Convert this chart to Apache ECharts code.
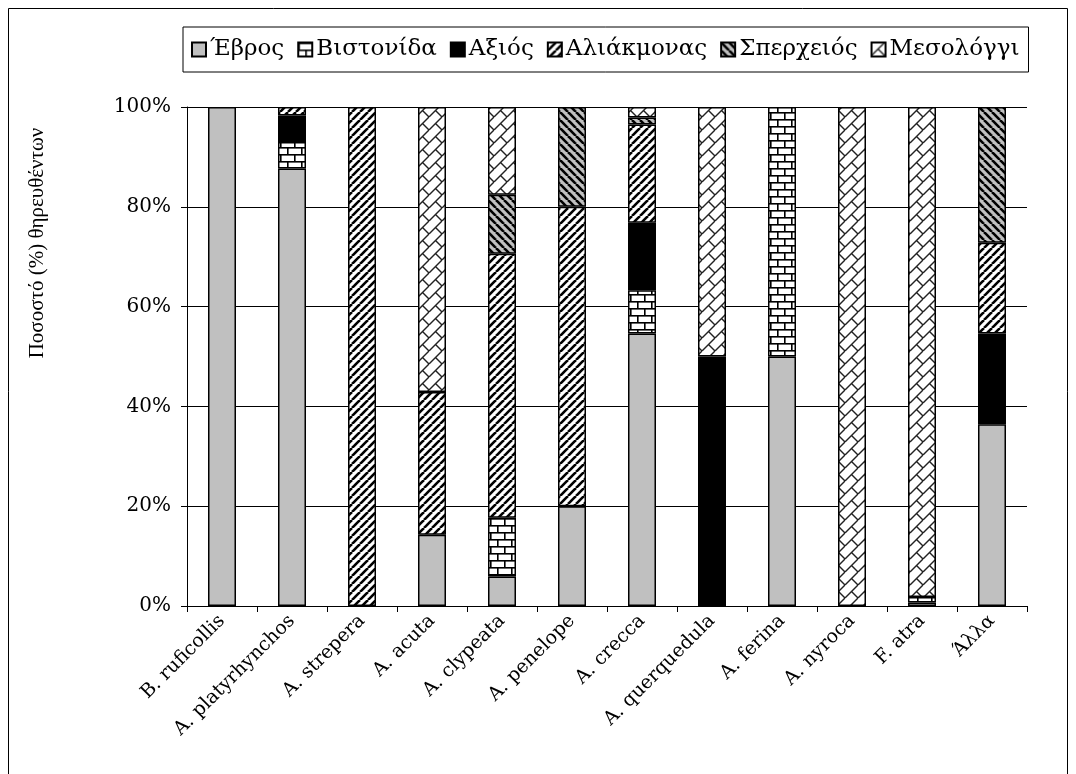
<!DOCTYPE html>
<html><head><meta charset="utf-8">
<script src="https://cdn.jsdelivr.net/npm/echarts@6/dist/echarts.min.js"></script>
<style>html,body{margin:0;padding:0;background:#fff}#c{width:1076px;height:774px}</style>
</head><body><div id="c"></div>
<script>
const categories = ['B. ruficollis','A. platyrhynchos','A. strepera','A. acuta','A. clypeata','A. penelope','A. crecca','A. querquedula','A. ferina','A. nyroca','F. atra','Άλλα'];
const seriesNames = ['Έβρος','Βιστονίδα','Αξιός','Αλιάκμονας','Σπερχειός','Μεσολόγγι'];
const evros      = [100, 87.7, 0, 14.3, 5.9, 20, 54.6, 0, 50, 0, 0.7, 36.4];
const vistonida  = [0, 5.3, 0, 0, 11.8, 0, 8.7, 0, 50, 0, 1.1, 0];
const axios      = [0, 5.3, 0, 0, 0, 0, 13.5, 50, 0, 0, 0, 18.2];
const aliakmonas = [0, 1.7, 100, 28.6, 52.9, 60, 19.7, 0, 0, 0, 0, 18.2];
const sperxeios  = [0, 0, 0, 0, 11.8, 20, 1.4, 0, 0, 0, 0, 27.2];
const mesolongi  = [0, 0, 0, 57.1, 17.6, 0, 2.1, 50, 0, 100, 98.2, 0];
const yTicks = [0, 20, 40, 60, 80, 100];

function mk(w, h, fn) { const c = document.createElement('canvas'); c.width = w; c.height = h; const g = c.getContext('2d'); fn(g, w, h); return c; }
const patBrick = mk(14, 14, (g, w, h) => {
  g.fillStyle = '#fff'; g.fillRect(0, 0, w, h);
  g.fillStyle = '#000';
  g.fillRect(0, 0, w, 1.6); g.fillRect(0, 7, w, 1.6);
  g.fillRect(0, 0, 1.6, 7); g.fillRect(7, 7, 1.6, 7);
});
const patUp = mk(8, 8, (g, w, h) => {
  g.fillStyle = '#fff'; g.fillRect(0, 0, w, h);
  g.strokeStyle = '#000'; g.lineWidth = 2.6;
  for (const o of [-8, 0, 8]) { g.beginPath(); g.moveTo(o, h); g.lineTo(o + w, 0); g.stroke(); }
});
const patDown = mk(8, 8, (g, w, h) => {
  g.fillStyle = '#c0c0c0'; g.fillRect(0, 0, w, h);
  g.strokeStyle = '#000'; g.lineWidth = 2.6;
  for (const o of [-8, 0, 8]) { g.beginPath(); g.moveTo(o, 0); g.lineTo(o + w, h); g.stroke(); }
});
const patDBrick = mk(13, 13, (g, w, h) => {
  g.fillStyle = '#fff'; g.fillRect(0, 0, w, h);
  g.strokeStyle = '#222'; g.lineWidth = 1.4;
  for (const o of [-13, 0, 13]) { g.beginPath(); g.moveTo(o, h); g.lineTo(o + w, 0); g.stroke(); }
  const m = w / 2;
  g.beginPath(); g.moveTo(m, m); g.lineTo(w, h); g.stroke();
  g.beginPath(); g.moveTo(-m, m); g.lineTo(0, h); g.stroke();
  g.beginPath(); g.moveTo(m, -m); g.lineTo(w, 0); g.stroke();
});
const fills = ['#c0c0c0', {image: patBrick, repeat: 'repeat'}, '#000', {image: patUp, repeat: 'repeat'}, {image: patDown, repeat: 'repeat'}, {image: patDBrick, repeat: 'repeat'}];
const datas = [evros, vistonida, axios, aliakmonas, sperxeios, mesolongi];
const FONT = 'DejaVu Serif';

const chart = echarts.init(document.getElementById('c'), null, {renderer: 'canvas'});
chart.setOption({
  animation: false,
  backgroundColor: '#fff',
  textStyle: {fontFamily: FONT, color: '#000'},
  grid: {left: 187, right: 49, top: 107, bottom: 168},
  legend: {
    left: 183, top: 27, itemWidth: 14, itemHeight: 14, itemGap: 13,
    icon: 'rect', borderColor: '#000', borderWidth: 1, padding: [11, 9, 11, 8],
    textStyle: {fontFamily: FONT, fontSize: 23, color: '#000', padding: [0, 0, 0, -1]},
    data: seriesNames
  },
  xAxis: {
    type: 'category', data: categories,
    axisLine: {lineStyle: {color: '#000', width: 1}},
    axisTick: {show: true, length: 6, interval: 0, lineStyle: {color: '#000'}},
    axisLabel: {interval: 0, rotate: 45, margin: 12, fontFamily: FONT, fontSize: 19, color: '#000'}
  },
  yAxis: {
    type: 'value', min: 0, max: 100, interval: 20,
    axisLine: {show: true, lineStyle: {color: '#000', width: 1}},
    axisTick: {show: true, length: 6, lineStyle: {color: '#000'}},
    axisLabel: {formatter: v => yTicks.includes(v) ? v + '%' : '', margin: 16, fontFamily: FONT, fontSize: 20, color: '#000'},
    splitLine: {show: true, lineStyle: {color: '#000', width: 1}}
  },
  series: seriesNames.map((n, i) => ({
    name: n, type: 'bar', stack: 'total', barWidth: 28,
    data: datas[i].map(v => v === 0 ? null : v),
    itemStyle: {color: fills[i], borderColor: '#000', borderWidth: 1.5},
    emphasis: {disabled: true}
  })),
  graphic: [
    {type: 'rect', silent: true, z: -10, shape: {x: 8.5, y: 8.5, width: 1059, height: 800}, style: {fill: null, stroke: '#000', lineWidth: 1}},
    {type: 'text', x: 37, y: 243, rotation: Math.PI / 2, style: {text: 'Ποσοστό (%) θηρευθέντων', fontFamily: 'Liberation Serif', fontSize: 21, fill: '#000', align: 'center', verticalAlign: 'middle'}}
  ]
});
</script></body></html>
